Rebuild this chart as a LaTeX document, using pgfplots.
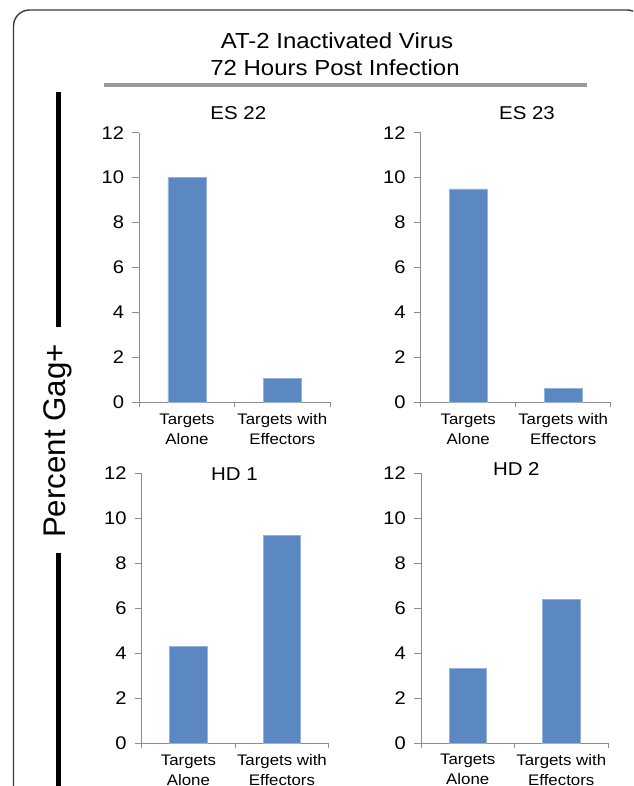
\documentclass[border=0pt]{standalone}
\usepackage{fontspec}
\setmainfont[FakeStretch=1.1]{Liberation Sans}
\newfontfamily\plainfont{Liberation Sans}
\usepackage{pgfplots}
\pgfplotsset{compat=1.18}
\definecolor{barblue}{HTML}{5B87C3}
\definecolor{baredge}{HTML}{93B2DC}
\definecolor{axgray}{HTML}{8C8C8C}
\definecolor{rulegray}{HTML}{9B9B9B}
\definecolor{framecol}{HTML}{3A3A3A}
\pgfplotsset{panel/.style={
  scale only axis, height=270pt, anchor=south west,
  xmin=-0.5, xmax=1.5, ymin=0, ymax=12,
  ytick={0,2,...,12}, xtick={0,1},
  xticklabels={Targets\\Alone, Targets with\\Effectors},
  minor xtick={-0.5,0.5,1.5},
  axis x line*=bottom, axis y line*=left,
  axis line style={axgray, line width=0.9pt, -},
  tick style={axgray, line width=0.9pt},
  tick align=outside,
  major tick length=7pt,
  minor tick length=5pt,
  every major x tick/.append style={draw=none},
  /pgf/number format/assume math mode=true,
  yticklabel style={font=\fontsize{18.3}{20}\selectfont, inner sep=0pt, anchor=east, xshift=-8pt},
  xticklabel style={font=\fontsize{15.3}{20}\selectfont, align=center, anchor=north, inner sep=0pt, yshift=-4pt},
  clip=false,
}}
\begin{document}
\begin{tikzpicture}[x=1pt,y=1pt]
\useasboundingbox (0,0) rectangle (633,786);
\clip (0,0) rectangle (633,786);
% frame
\draw[framecol, line width=1.4pt, rounded corners=16pt] (13.5,-10) -- (13.5,776) -- (643,776) -- (643,-10);
% titles
\node[anchor=base, font=\fontsize{21.8}{27.7}\selectfont] at (337,737.7) {AT-2 Inactivated Virus};
\node[anchor=base, font=\fontsize{21.8}{27.7}\selectfont] at (335,710) {72 Hours Post Infection};
\draw[rulegray, line width=4pt] (104,701) -- (587,701);
% y label with bars
\draw[black, line width=5pt] (58.3,694) -- (58.3,459);
\draw[black, line width=5pt] (58.3,233) -- (58.3,-5);
\node[rotate=90, font=\plainfont\fontsize{31.3}{36}\selectfont] at (57.5,345) {Percent Gag+};
% panel titles
\node[anchor=base, font=\fontsize{18.6}{22}\selectfont] at (238.3,666.7) {ES 22};
\node[anchor=base, font=\fontsize{18.6}{22}\selectfont] at (527,666) {ES 23};
\node[anchor=base, font=\fontsize{18.6}{22}\selectfont] at (234.5,305.3) {HD 1};
\node[anchor=base, font=\fontsize{18.6}{22}\selectfont] at (516.3,310) {HD 2};
% ES 22
\begin{axis}[panel, width=190.7pt, height=269.6pt, at={(139.3pt,383.7pt)}]
\addplot[ybar, bar width=38pt, fill=barblue, draw=baredge, line width=0.5pt] coordinates {(0,10) (1,1.05)};
\end{axis}
% ES 23
\begin{axis}[panel, width=190pt, height=269.6pt, at={(420.7pt,383.7pt)}]
\addplot[ybar, bar width=38pt, fill=barblue, draw=baredge, line width=0.5pt] coordinates {(0,9.5) (1,0.61)};
\end{axis}
% HD 1
\begin{axis}[panel, width=187pt, height=270pt, at={(141.7pt,42.7pt)}]
\addplot[ybar, bar width=37.5pt, fill=barblue, draw=baredge, line width=0.5pt] coordinates {(0,4.3) (1,9.24)};
\end{axis}
% HD 2
\begin{axis}[panel, width=187pt, height=270pt, at={(421pt,43pt)}]
\addplot[ybar, bar width=37.5pt, fill=barblue, draw=baredge, line width=0.5pt] coordinates {(0,3.3) (1,6.38)};
\end{axis}
\end{tikzpicture}
\end{document}
